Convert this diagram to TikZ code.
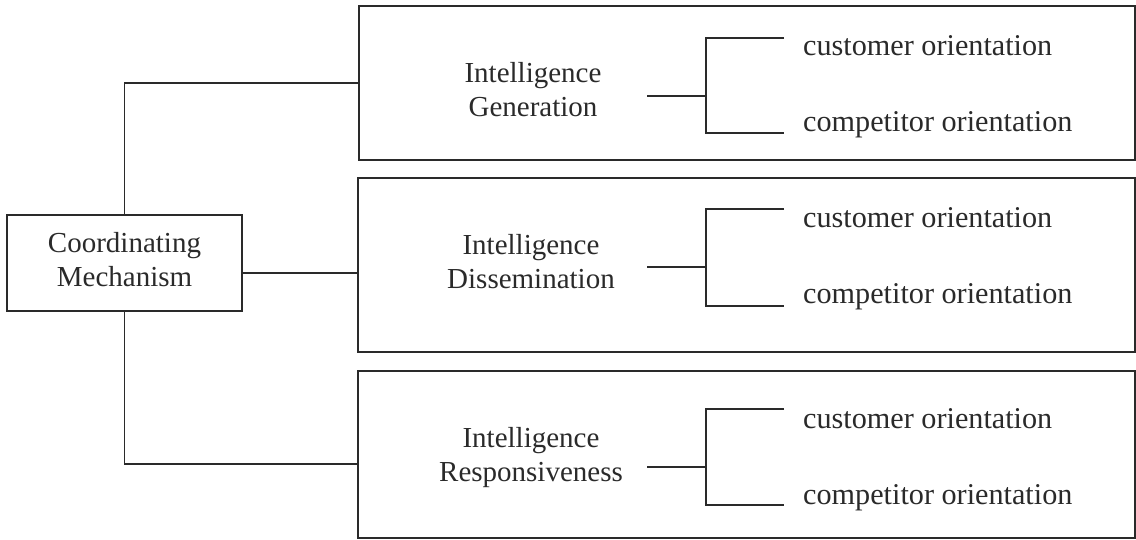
\documentclass[tikz,border=0pt]{standalone}
\usepackage{fontspec}
\setmainfont{Liberation Serif}
\definecolor{ink}{HTML}{2A2A2A}
\begin{document}
\begin{tikzpicture}[x=1pt,y=-1pt,
  wire/.style={draw=ink,line width=1.5pt},
  frame/.style={draw=ink,line width=1.5pt,inner sep=0pt,fill=none},
  txt/.style={font=\fontsize{29}{34}\selectfont,text=ink,inner sep=0pt},
  lab/.style={txt,anchor=base},
  item/.style={font=\fontsize{30.2}{34}\selectfont,text=ink,inner sep=0pt,anchor=base west}]
\useasboundingbox (0,0) rectangle (1136,540);

% central box
\node[frame,txt,minimum width=235pt,minimum height=96pt] (cm) at (124.5,263)
  {\begin{tabular}{@{}c@{}}Coordinating\\Mechanism\end{tabular}};

% the three component boxes
\node[frame,minimum width=776pt,minimum height=154pt] (g) at (747,83) {};
\node[frame,minimum width=777pt,minimum height=174pt] (d) at (746.5,265) {};
\node[frame,minimum width=777pt,minimum height=167pt] (r) at (746.5,454.5) {};

% component labels
\node[lab] (gl) at (533,117) {\begin{tabular}[b]{@{}c@{}}Intelligence\\Generation\end{tabular}};
\node[lab] (dl) at (531,289) {\begin{tabular}[b]{@{}c@{}}Intelligence\\Dissemination\end{tabular}};
\node[lab] (rl) at (531,481) {\begin{tabular}[b]{@{}c@{}}Intelligence\\Responsiveness\end{tabular}};

% orientations
\node[item] (gc) at (803,56)  {customer orientation};
\node[item] (gp) at (803,132) {competitor orientation};
\node[item] (dc) at (803,228) {customer orientation};
\node[item] (dp) at (803,304) {competitor orientation};
\node[item] (rc) at (803,428) {customer orientation};
\node[item] (rp) at (803,504) {competitor orientation};

% brackets joining each label to its two orientations
\foreach \n/\s/\t/\b in {g/96/38/133, d/267/209/306, r/467/409/505} {
  \coordinate (\n s) at (647,\s);
  \coordinate (\n j) at (706,\s);
  \coordinate (\n t) at (784,\t);
  \coordinate (\n b) at (784,\b);
  \draw[wire] (\n s) -- (\n j);
  \draw[wire] (\n t) -- (\n t -| \n j) -- (\n b -| \n j) -- (\n b);
}

% connectors from the central box
\draw[wire] (cm.north) |- (g.west);
\draw[wire] (cm.east |- 0,273) -- (d.west |- 0,273);
\draw[wire] (cm.south) |- (r.west |- 0,464);
\end{tikzpicture}
\end{document}
